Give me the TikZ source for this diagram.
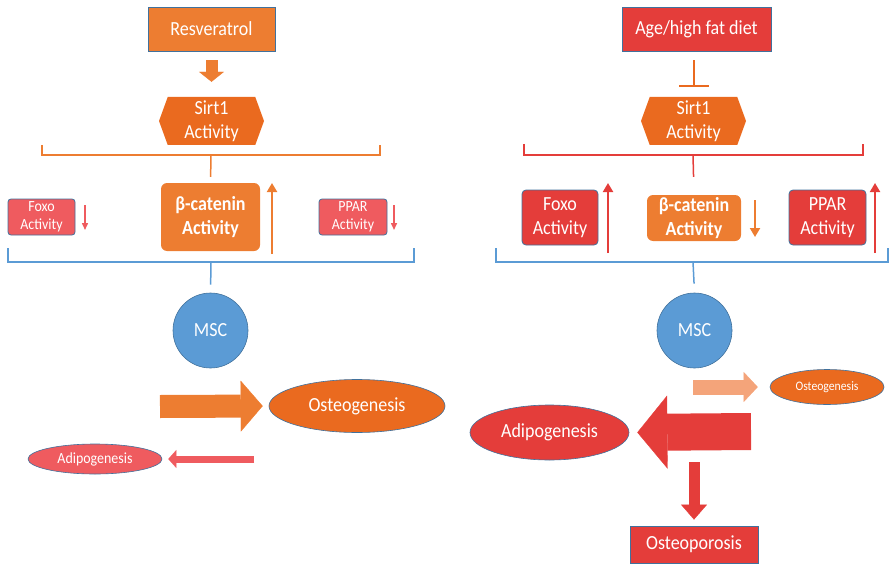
\documentclass[tikz,border=0pt]{standalone}
\usepackage{fontspec}
\setmainfont{Carlito}[FakeStretch=0.9]
\usepackage{tikz}
\usetikzlibrary{arrows.meta,shapes.symbols,shapes.geometric}

\definecolor{orangeM}{HTML}{ED7D31}
\definecolor{orangeD}{HTML}{EA6A1F}
\definecolor{orangeL}{HTML}{F4A47A}
\definecolor{redM}{HTML}{E43D3A}
\definecolor{redL}{HTML}{EF5B5F}
\definecolor{blueM}{HTML}{5B9BD5}
\definecolor{blueB}{HTML}{41719C}

\begin{document}
\begin{tikzpicture}[x=1pt,y=-1pt,
    txtbig/.style={font=\fontsize{20}{24}\selectfont},
    txtmid/.style={font=\fontsize{15.5}{18}\selectfont},
    txtsmall/.style={font=\fontsize{13}{15}\selectfont},
    box/.style={draw=blueB, line width=0.8pt, text=white, align=center, inner sep=1pt},
    catbox/.style={fill=orangeM, rounded corners=6pt, text=white, align=center, inner sep=1pt, txtbig, font=\fontsize{20}{24}\selectfont\bfseries},
    hexa/.style={signal, signal to=east and west, signal pointer angle=140,
        fill=orangeD, text=white, align=center, inner sep=1pt,
        minimum width=105pt, minimum height=48pt, txtbig},
    blob/.style={ellipse, draw=blueB, line width=0.6pt, text=white, inner sep=1pt},
    block/.style n args={3}{line width=#1, -{Triangle[length=#2, width=#3, line width=0.3pt]}},
    thin/.style={line width=#1, -{Triangle[length=9pt, width=10pt]}}
    ]
    \useasboundingbox (0,0) rectangle (890,564);

    % left column: resveratrol
    \node[box,
    fill=orangeM,
    minimum width=127pt,
    minimum height=44pt,
    txtbig] (resv) at (211.5,29) {Resveratrol};
    \node[hexa] (sirtL) at (211.5,121) {Sirt1\\Activity};

    % right column: age / diet
    \node[box,
    fill=redM,
    minimum width=149pt,
    minimum height=44pt,
    txtbig] (age) at (696.5,29) {Age/high fat diet};
    \node[hexa] (sirtR) at (693.5,121) {Sirt1\\Activity};

    % left activity nodes
    \node[box,
    fill=redL,
    rounded corners=3pt,
    minimum width=67pt,
    minimum height=36pt,
    txtmid] (foxoL) at (41.5,217) {Foxo\\Activity};
    \node[catbox,
    minimum width=99pt,
    minimum height=68pt] (catL) at (210.5,217) {β-catenin\\Activity};
    \node[box,
    fill=redL,
    rounded corners=3pt,
    minimum width=68pt,
    minimum height=36pt,
    txtmid] (pparL) at (353,217) {PPAR\\Activity};

    % right activity nodes
    \node[box,
    fill=redM,
    rounded corners=4pt,
    minimum width=76pt,
    minimum height=55pt,
    txtbig] (foxoR) at (560,217.5) {Foxo\\Activity};
    \node[catbox,
    minimum width=94pt,
    minimum height=46pt] (catR) at (694,218) {β-catenin\\Activity};
    \node[box,
    fill=redM,
    rounded corners=4pt,
    minimum width=77pt,
    minimum height=55pt,
    txtbig] (pparR) at (827.5,217.5) {PPAR\\Activity};

    % stem cells
    \node[circle,
    draw=blueB,
    line width=0.6pt,
    fill=blueM,
    minimum size=75pt,
    text=white,
    txtbig] (mscL) at (210.5,330.5) {MSC};
    \node[circle,
    draw=blueB,
    line width=0.6pt,
    fill=blueM,
    minimum size=75pt,
    text=white,
    txtbig] (mscR) at (694.5,330.5) {MSC};

    % outcomes
    \node[blob, fill=orangeD, minimum width=176pt, minimum height=53pt, txtbig] (osteoL) at (357,406) {Osteogenesis};
    \node[blob, fill=redL, minimum width=134pt, minimum height=30pt, txtmid] (adipoL) at (95,459) {Adipogenesis};
    \node[blob, fill=orangeD, minimum width=114pt, minimum height=35pt, txtsmall] (osteoR) at (827,387) {Osteogenesis};
    \node[blob, fill=redM, minimum width=159pt, minimum height=55pt, txtbig] (adipoR) at (549.5,432.5) {Adipogenesis};
    \node[box,
    fill=redM,
    minimum width=128pt,
    minimum height=37pt,
    txtbig] (osteop) at (694,544.5) {Osteoporosis};

    % free ends
    \coordinate (braceL) at (211,155);
    \coordinate (braceR) at (693,155);
    \coordinate (baseL) at (211,262);
    \coordinate (baseR) at (693,262);
    \coordinate (bigL) at (160,406.5);
    \coordinate (backL) at (254,459);
    \coordinate (bigR) at (751,431.5);
    \coordinate (smallR) at (693,387);
    \coordinate (downR) at (694,462);

    % brackets
    \draw[orangeM, line width=1.5pt] (42,145) -- (42,155) -- (380,155) -- (380,145);
    \draw[redM, line width=1.5pt] (524,144) -- (524,155) -- (863,155) -- (863,144);
    \draw[blueM, line width=1.5pt] (8,248) -- (8,262) -- (414,262) -- (414,248);
    \draw[blueM, line width=1.5pt] (496,248) -- (496,262) -- (888,262) -- (888,248);
    \draw[orangeM, line width=1.5pt, shorten >=6pt] (braceL) -- (catL.north);
    \draw[redM, line width=1.5pt, shorten >=18pt] (braceR) -- (catR.north);
    \draw[blueM, line width=1.5pt, shorten >=8pt] (baseL) -- (mscL.north);
    \draw[blueM, line width=1.5pt, shorten >=9pt] (baseR) -- (mscR.north);

    % top connectors
    \draw[orangeM, block={12pt}{10pt}{25pt}, shorten <=9pt, shorten >=15pt] (resv.south) -- (sirtL.north);
    \draw[orangeD, line width=2pt, -{Bar[width=30pt, line width=2pt]}, shorten <=9pt, shorten >=10pt]
        (sirtR.north |- age.south) -- (sirtR.north);

    % up and down markers
    \draw[orangeM, thin=2pt] (272,254) -- (272,183);
    \draw[redL, line width=1.5pt, -{Triangle[length=7pt, width=6pt]}] (85,205) -- (85,230);
    \draw[redL, line width=1.5pt, -{Triangle[length=7pt, width=6pt]}] (394,205) -- (394,230);
    \draw[redM, thin=2pt] (608,253) -- (608,183);
    \draw[redM, thin=2pt] (875,253) -- (875,183);
    \draw[orangeM, thin=2pt] (755,200) -- (755,237);

    % block arrows to outcomes
    \draw[orangeM, block={23pt}{22pt}{51pt}, shorten >=6pt] (bigL) -- (osteoL.west);
    \draw[redL, block={7pt}{8pt}{18pt}, shorten >=6pt] (backL) -- (adipoL.east);
    \draw[redM, block={37pt}{30pt}{73pt}, shorten >=8pt] (bigR) -- (adipoR.east);
    \draw[orangeL, block={15pt}{14pt}{30pt}, shorten >=12pt] (smallR) -- (osteoR.west);
    \draw[redM, block={11pt}{15pt}{26pt}, shorten >=6pt] (downR) -- (osteop.north);

\end{tikzpicture}
\end{document}
